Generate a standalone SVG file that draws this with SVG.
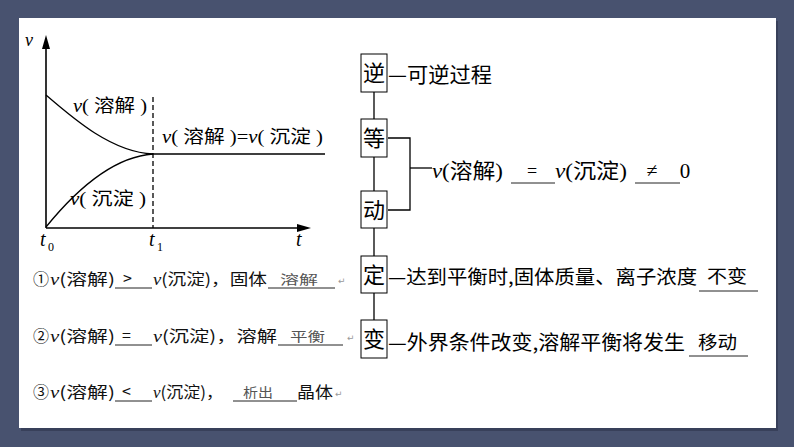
<svg xmlns="http://www.w3.org/2000/svg" width="794" height="447" viewBox="0 0 794 447">
<style>
.ln{stroke:#000;stroke-width:1.3;fill:none}
.ax{stroke:#000;stroke-width:1.6;fill:none}
.box{fill:#fff;stroke:#000;stroke-width:1}
.cj{font-family:"Noto Sans CJK SC","Noto Sans CJK JP",sans-serif;fill:#000}
.se{font-family:"Liberation Serif","Noto Sans CJK SC",serif;fill:#000}
.it{font-style:italic;font-family:"Liberation Serif",serif}
.bl{font-family:"Noto Sans CJK SC",sans-serif;font-size:16px;fill:#111}
.ans{font-family:"Noto Sans CJK SC",sans-serif;font-size:13px;fill:#555}
.pm{font-family:"DejaVu Sans",sans-serif;font-size:9px;fill:#999}
.ul{stroke:#222;stroke-width:1}
</style>
<rect x="0" y="0" width="794" height="447" fill="#48526f"/>
<rect x="21" y="21" width="757" height="410" fill="#2e354c" opacity="0.6"/>
<rect x="19" y="18" width="757" height="410" fill="#fff"/>

<g id="graph">
  <line class="ax" x1="46" y1="228" x2="46" y2="46"/>
  <polygon points="46,35 42,49 50,49" fill="#000"/>
  <line class="ax" x1="46" y1="228" x2="300" y2="228"/>
  <polygon points="311,228 297,224 297,232" fill="#000"/>
  <line x1="153" y1="97" x2="153" y2="228" stroke="#000" stroke-width="1.3" stroke-dasharray="5,3"/>
  <path class="ln" d="M46,95 C75,120 112,152 153,154 L325,154"/>
  <path class="ln" d="M46,227 C72,195 110,157 153,154"/>
  <text class="se it" x="25" y="46" font-size="18">v</text>
  <text class="se it" x="296" y="246" font-size="20">t</text>
  <text class="se it" x="40" y="246" font-size="20">t</text>
  <text class="se" x="48" y="251" font-size="12">0</text>
  <text class="se it" x="149" y="246" font-size="20">t</text>
  <text class="se" x="157" y="251" font-size="12">1</text>
  <text class="se" x="73" y="112" font-size="18" textLength="74" lengthAdjust="spacingAndGlyphs"><tspan class="it">v</tspan>( 溶解 )</text>
  <text class="se" x="162" y="143" font-size="18" textLength="161" lengthAdjust="spacingAndGlyphs"><tspan class="it">v</tspan>( 溶解 )=<tspan class="it">v</tspan>( 沉淀 )</text>
  <text class="se" x="70" y="205" font-size="18" textLength="76" lengthAdjust="spacingAndGlyphs"><tspan class="it">v</tspan>( 沉淀 )</text>
</g>

<g id="connectors">
  <line class="ln" x1="374" y1="92" x2="374" y2="119"/>
  <line class="ln" x1="374" y1="157" x2="374" y2="191"/>
  <line class="ln" x1="374" y1="228" x2="374" y2="256"/>
  <line class="ln" x1="374" y1="293" x2="374" y2="320"/>
  <path class="ln" d="M388,138 H410 V210 H388"/>
  <line class="ln" x1="410" y1="168" x2="432" y2="168"/>
</g>

<g id="node-ni">
  <rect class="box" x="361" y="54" width="26" height="38"/>
  <text class="cj" x="374" y="81" font-size="22" text-anchor="middle">逆</text>
  <text class="cj" x="388" y="82" font-size="21" textLength="104" lengthAdjust="spacingAndGlyphs">—可逆过程</text>
</g>
<g id="node-deng">
  <rect class="box" x="361" y="119" width="26" height="38"/>
  <text class="cj" x="374" y="146" font-size="22" text-anchor="middle">等</text>
</g>
<g id="node-dong">
  <rect class="box" x="361" y="191" width="26" height="37"/>
  <text class="cj" x="374" y="218" font-size="22" text-anchor="middle">动</text>
</g>
<g id="node-rate">
  <text class="se" x="432" y="178" font-size="21" textLength="71" lengthAdjust="spacingAndGlyphs"><tspan class="it">v</tspan>(溶解)</text>
  <line class="ul" x1="511" y1="183" x2="555" y2="183"/>
  <text class="se" x="532" y="177" font-size="18" text-anchor="middle">=</text>
  <text class="se" x="555" y="178" font-size="21" textLength="72" lengthAdjust="spacingAndGlyphs"><tspan class="it">v</tspan>(沉淀)</text>
  <line class="ul" x1="635" y1="183" x2="680" y2="183"/>
  <text class="se" x="652" y="177" font-size="20" text-anchor="middle">≠</text>
  <text class="se" x="685" y="178" font-size="21" text-anchor="middle">0</text>
</g>
<g id="node-ding">
  <rect class="box" x="361" y="256" width="26" height="37"/>
  <text class="cj" x="374" y="283" font-size="22" text-anchor="middle">定</text>
  <text class="cj" x="388" y="284" font-size="19.5" textLength="309" lengthAdjust="spacingAndGlyphs">—达到平衡时,固体质量、离子浓度</text>
  <line class="ul" x1="699" y1="291" x2="758" y2="291"/>
  <text class="cj" x="707" y="283" font-size="18" textLength="40" lengthAdjust="spacingAndGlyphs">不变</text>
</g>
<g id="node-bian">
  <rect class="box" x="361" y="320" width="26" height="38"/>
  <text class="cj" x="374" y="347" font-size="22" text-anchor="middle">变</text>
  <text class="cj" x="388" y="350" font-size="20" textLength="297" lengthAdjust="spacingAndGlyphs">—外界条件改变,溶解平衡将发生</text>
  <line class="ul" x1="689" y1="356" x2="748" y2="356" stroke="#555"/>
  <text class="cj" x="698" y="349" font-size="18" textLength="39" lengthAdjust="spacingAndGlyphs">移动</text>
</g>

<g id="line1">
  <text class="bl" x="33" y="285">①</text>
  <text class="bl" x="50" y="285" textLength="65" lengthAdjust="spacingAndGlyphs"><tspan class="it">v</tspan>(溶解)</text>
  <line class="ul" x1="115" y1="288" x2="152" y2="288"/>
  <text class="bl" x="123" y="284">&gt;</text>
  <text class="bl" x="153" y="285" textLength="114" lengthAdjust="spacingAndGlyphs"><tspan class="it">v</tspan>(沉淀)，固体</text>
  <line class="ul" x1="268" y1="288" x2="335" y2="288"/>
  <text class="ans" x="280" y="284" textLength="38" lengthAdjust="spacingAndGlyphs">溶解</text>
  <text class="pm" x="338" y="284">↵</text>
</g>
<g id="line2">
  <text class="bl" x="33" y="342">②</text>
  <text class="bl" x="50" y="342" textLength="65" lengthAdjust="spacingAndGlyphs"><tspan class="it">v</tspan>(溶解)</text>
  <line class="ul" x1="115" y1="345" x2="152" y2="345"/>
  <text class="bl" x="122" y="341">=</text>
  <text class="bl" x="153" y="342" textLength="124" lengthAdjust="spacingAndGlyphs"><tspan class="it">v</tspan>(沉淀)，溶解</text>
  <line class="ul" x1="278" y1="345" x2="343" y2="345"/>
  <text class="ans" x="290" y="341" textLength="35" lengthAdjust="spacingAndGlyphs">平衡</text>
  <text class="pm" x="347" y="341">↵</text>
</g>
<g id="line3">
  <text class="bl" x="33" y="398">③</text>
  <text class="bl" x="50" y="398" textLength="65" lengthAdjust="spacingAndGlyphs"><tspan class="it">v</tspan>(溶解)</text>
  <line class="ul" x1="115" y1="401" x2="152" y2="401"/>
  <text class="bl" x="122" y="397">&lt;</text>
  <text class="bl" x="153" y="398" textLength="70" lengthAdjust="spacingAndGlyphs"><tspan class="it">v</tspan>(沉淀)，</text>
  <line class="ul" x1="233" y1="401" x2="297" y2="401"/>
  <text class="ans" x="243" y="397" textLength="30" lengthAdjust="spacingAndGlyphs">析出</text>
  <text class="bl" x="297" y="398" textLength="36" lengthAdjust="spacingAndGlyphs">晶体</text>
  <text class="pm" x="335" y="397">↵</text>
</g>
</svg>
